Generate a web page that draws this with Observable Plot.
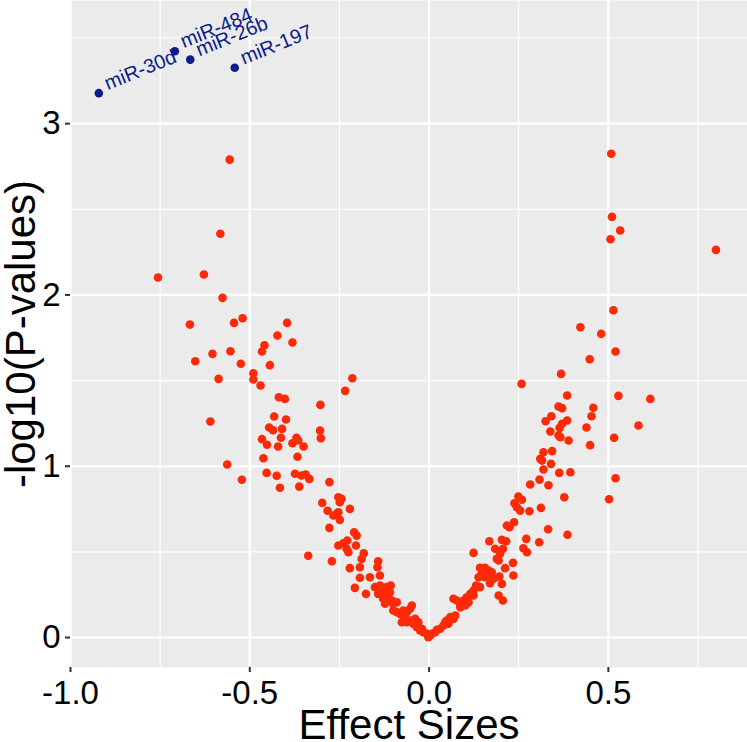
<!DOCTYPE html>
<html><head><meta charset="utf-8">
<script src="https://cdn.jsdelivr.net/npm/d3@7"></script>
<script src="https://cdn.jsdelivr.net/npm/@observablehq/plot@0.6"></script>
<style>body{margin:0;background:#fff} svg{display:block}</style>
</head><body><div id="chart"></div>
<script>
const effect = [
-0.556,-0.582,-0.756,-0.628,-0.576,-0.667,-0.544,-0.520,-0.396,-0.423,
-0.381,-0.459,-0.466,-0.604,-0.554,-0.652,-0.525,-0.444,-0.490,-0.490,
-0.587,-0.470,-0.214,-0.234,-0.419,-0.402,-0.303,-0.432,-0.399,-0.610,
-0.446,-0.435,-0.410,-0.304,-0.302,-0.466,-0.413,-0.370,-0.365,-0.381,
-0.452,-0.421,-0.350,-0.462,-0.367,-0.563,
-0.522,-0.453,-0.425,-0.416,-0.374,-0.356,-0.344,-0.334,-0.362,-0.278,
-0.298,-0.283,-0.253,-0.244,-0.249,-0.221,-0.267,-0.258,-0.249,-0.253,
-0.278,-0.209,-0.202,-0.253,-0.239,-0.228,-0.230,-0.225,-0.204,-0.337,-0.271,
-0.182,-0.188,-0.193,-0.221,-0.142,-0.144,-0.137,-0.165,-0.193,-0.207,
-0.176,-0.151,-0.137,-0.128,-0.118,-0.107,-0.142,-0.123,-0.109,-0.128,
-0.114,-0.104,-0.100,-0.090,-0.123,-0.048,-0.053,-0.100,-0.090,-0.081,
-0.072,-0.067,-0.062,-0.076,-0.062,-0.053,-0.044,-0.039,-0.030,-0.034,
-0.025,-0.020,-0.016,-0.006,-0.002,0.003,
0.008,0.017,0.022,0.031,0.040,0.045,0.049,0.059,0.068,0.073,
0.054,0.068,0.077,0.087,0.142,0.156,0.166,0.175,0.147,0.156,
0.170,0.180,0.138,0.196,0.170,0.203,0.131,0.142,0.124,0.115,
0.105,0.124,0.096,0.110,0.087,0.101,0.194,0.206,0.124,0.212,0.234,0.235,
0.338,0.361,0.366,0.389,0.319,0.343,0.310,0.315,0.340,0.319,
0.363,0.394,0.308,0.282,0.333,0.377,0.249,0.259,0.238,0.245,
0.254,0.280,0.312,0.237,0.217,0.224,0.332,0.386,0.168,0.203,
0.215,0.271,0.307,0.184,0.206,0.198,0.189,0.194,0.263,0.273,
0.508,0.510,0.533,0.506,0.800,0.514,0.422,0.480,0.520,0.448,
0.368,0.258,0.385,0.528,0.617,0.361,0.371,0.458,0.341,0.453,
0.325,0.385,0.371,0.584,0.364,0.439,0.516,0.449,0.520,0.502
];
const negLogP = [
2.790,2.357,2.102,2.119,1.983,1.827,1.837,1.864,1.837,1.763,
1.722,1.706,1.670,1.656,1.671,1.613,1.598,1.590,1.543,1.506,
1.510,1.471,1.514,1.440,1.403,1.393,1.358,1.290,1.273,1.261,
1.226,1.210,1.218,1.208,1.163,1.158,1.166,1.166,1.150,1.134,
1.125,1.115,1.115,1.047,1.055,1.010,
0.921,0.961,0.944,0.874,0.956,0.946,0.952,0.926,0.881,0.907,
0.786,0.740,0.819,0.810,0.790,
0.751,0.712,0.722,0.687,0.731,0.640,0.615,0.595,0.537,0.550,
0.566,0.518,0.498,0.537,0.477,0.445,
0.492,0.459,0.410,0.405,0.445,0.410,0.362,0.352,0.349,0.290,
0.255,0.294,0.304,0.284,0.294,0.304,0.255,0.255,0.264,0.226,
0.235,0.216,0.197,0.206,0.197,0.187,0.168,0.158,0.148,0.138,
0.158,0.128,0.148,0.089,0.089,0.099,0.080,0.109,0.089,0.060,
0.041,0.051,0.031,0.022,0.002,0.012,
0.022,0.031,0.045,0.051,0.070,0.089,0.099,0.119,0.109,0.128,
0.080,0.226,0.216,0.177,0.407,0.407,0.391,0.381,0.372,0.352,
0.362,0.343,0.352,0.356,0.317,0.313,0.304,0.294,0.274,0.255,
0.235,0.245,0.216,0.206,0.197,0.187,0.245,0.216,0.494,0.405,0.436,0.362,
1.203,1.179,1.169,1.150,1.082,1.088,1.043,1.033,1.014,0.981,
0.961,0.965,0.922,0.893,0.889,0.819,0.823,0.804,0.784,0.761,
0.741,0.737,0.757,0.673,0.654,0.644,0.632,0.600,0.562,0.570,
0.562,0.576,0.556,0.518,0.518,0.489,0.459,0.450,0.521,0.498,
2.824,2.456,2.376,2.325,2.263,1.911,1.811,1.773,1.670,1.625,
1.539,1.481,1.413,1.411,1.393,1.349,1.339,1.341,1.292,1.292,
1.263,1.267,1.248,1.238,1.224,1.226,1.166,1.123,0.930,0.807
];
const labelNames = ["miR-30d", "miR-484", "miR-26b", "miR-197"];
const labelEffect = [-0.921, -0.709, -0.666, -0.542];
const labelNegLogP = [3.178, 3.423, 3.374, 3.326];
const xTicks = [-1.0, -0.5, 0.0, 0.5];
const xMinor = [-0.75, -0.25, 0.25, 0.75];
const yTicks = [0, 1, 2, 3];
const yMinor = [0.5, 1.5, 2.5, 3.5];
const xTitle = "Effect Sizes";
const yTitle = "-log10(P-values)";

const points = effect.map((e, i) => ({effect: e, p: negLogP[i]}));
const labeled = labelNames.map((n, i) => ({name: n, effect: labelEffect[i], p: labelNegLogP[i]}));

const font = "'Liberation Sans', Arial, Helvetica, sans-serif";
const red = "#fd2a08";
const blue = "#0b1d8c";

const chart = Plot.plot({
  width: 747, height: 742,
  marginLeft: 70, marginRight: 0, marginTop: 0, marginBottom: 75,
  style: {fontFamily: font, background: "white", overflow: "visible"},
  x: {domain: [-1.0, 0.888]},
  y: {domain: [-0.175, 3.719]},
  marks: [
    Plot.frame({fill: "#EBEBEB", stroke: null}),
    Plot.ruleX(xMinor, {stroke: "white", strokeWidth: 1.1}),
    Plot.ruleY(yMinor, {stroke: "white", strokeWidth: 1.1}),
    Plot.ruleX(xTicks, {stroke: "white", strokeWidth: 2.2}),
    Plot.ruleY(yTicks, {stroke: "white", strokeWidth: 2.2}),
    Plot.axisX(xTicks, {tickSize: 5, tickPadding: 8, stroke: "#333", strokeWidth: 2, fill: "black",
      fontSize: 33, fontFamily: font, tickFormat: d => d.toFixed(1), label: null}),
    Plot.axisY(yTicks, {tickSize: 5, tickPadding: 5, stroke: "#333", strokeWidth: 2, fill: "black",
      fontSize: 33, fontFamily: font, tickFormat: d => String(d), label: null}),
    Plot.dot(points, {x: "effect", y: "p", r: 4.3, fill: red}),
    Plot.dot(labeled, {x: "effect", y: "p", r: 4.3, fill: blue}),
    Plot.text(labeled, {x: "effect", y: "p", text: "name", textAnchor: "start", lineAnchor: "bottom",
      rotate: -22, dx: 9, dy: -3, fill: blue, fontSize: 20, fontFamily: font}),
    Plot.text([xTitle], {text: d => d, frameAnchor: "bottom", dy: 71, lineAnchor: "bottom",
      textAnchor: "middle", fontSize: 42, fill: "black", fontFamily: font}),
    Plot.text([yTitle], {text: d => d, frameAnchor: "left", rotate: -90, dx: -49, dy: 0,
      textAnchor: "middle", lineAnchor: "middle", fontSize: 42, fill: "black", fontFamily: font})
  ]
});
document.getElementById("chart").appendChild(chart);
</script>
</body></html>
